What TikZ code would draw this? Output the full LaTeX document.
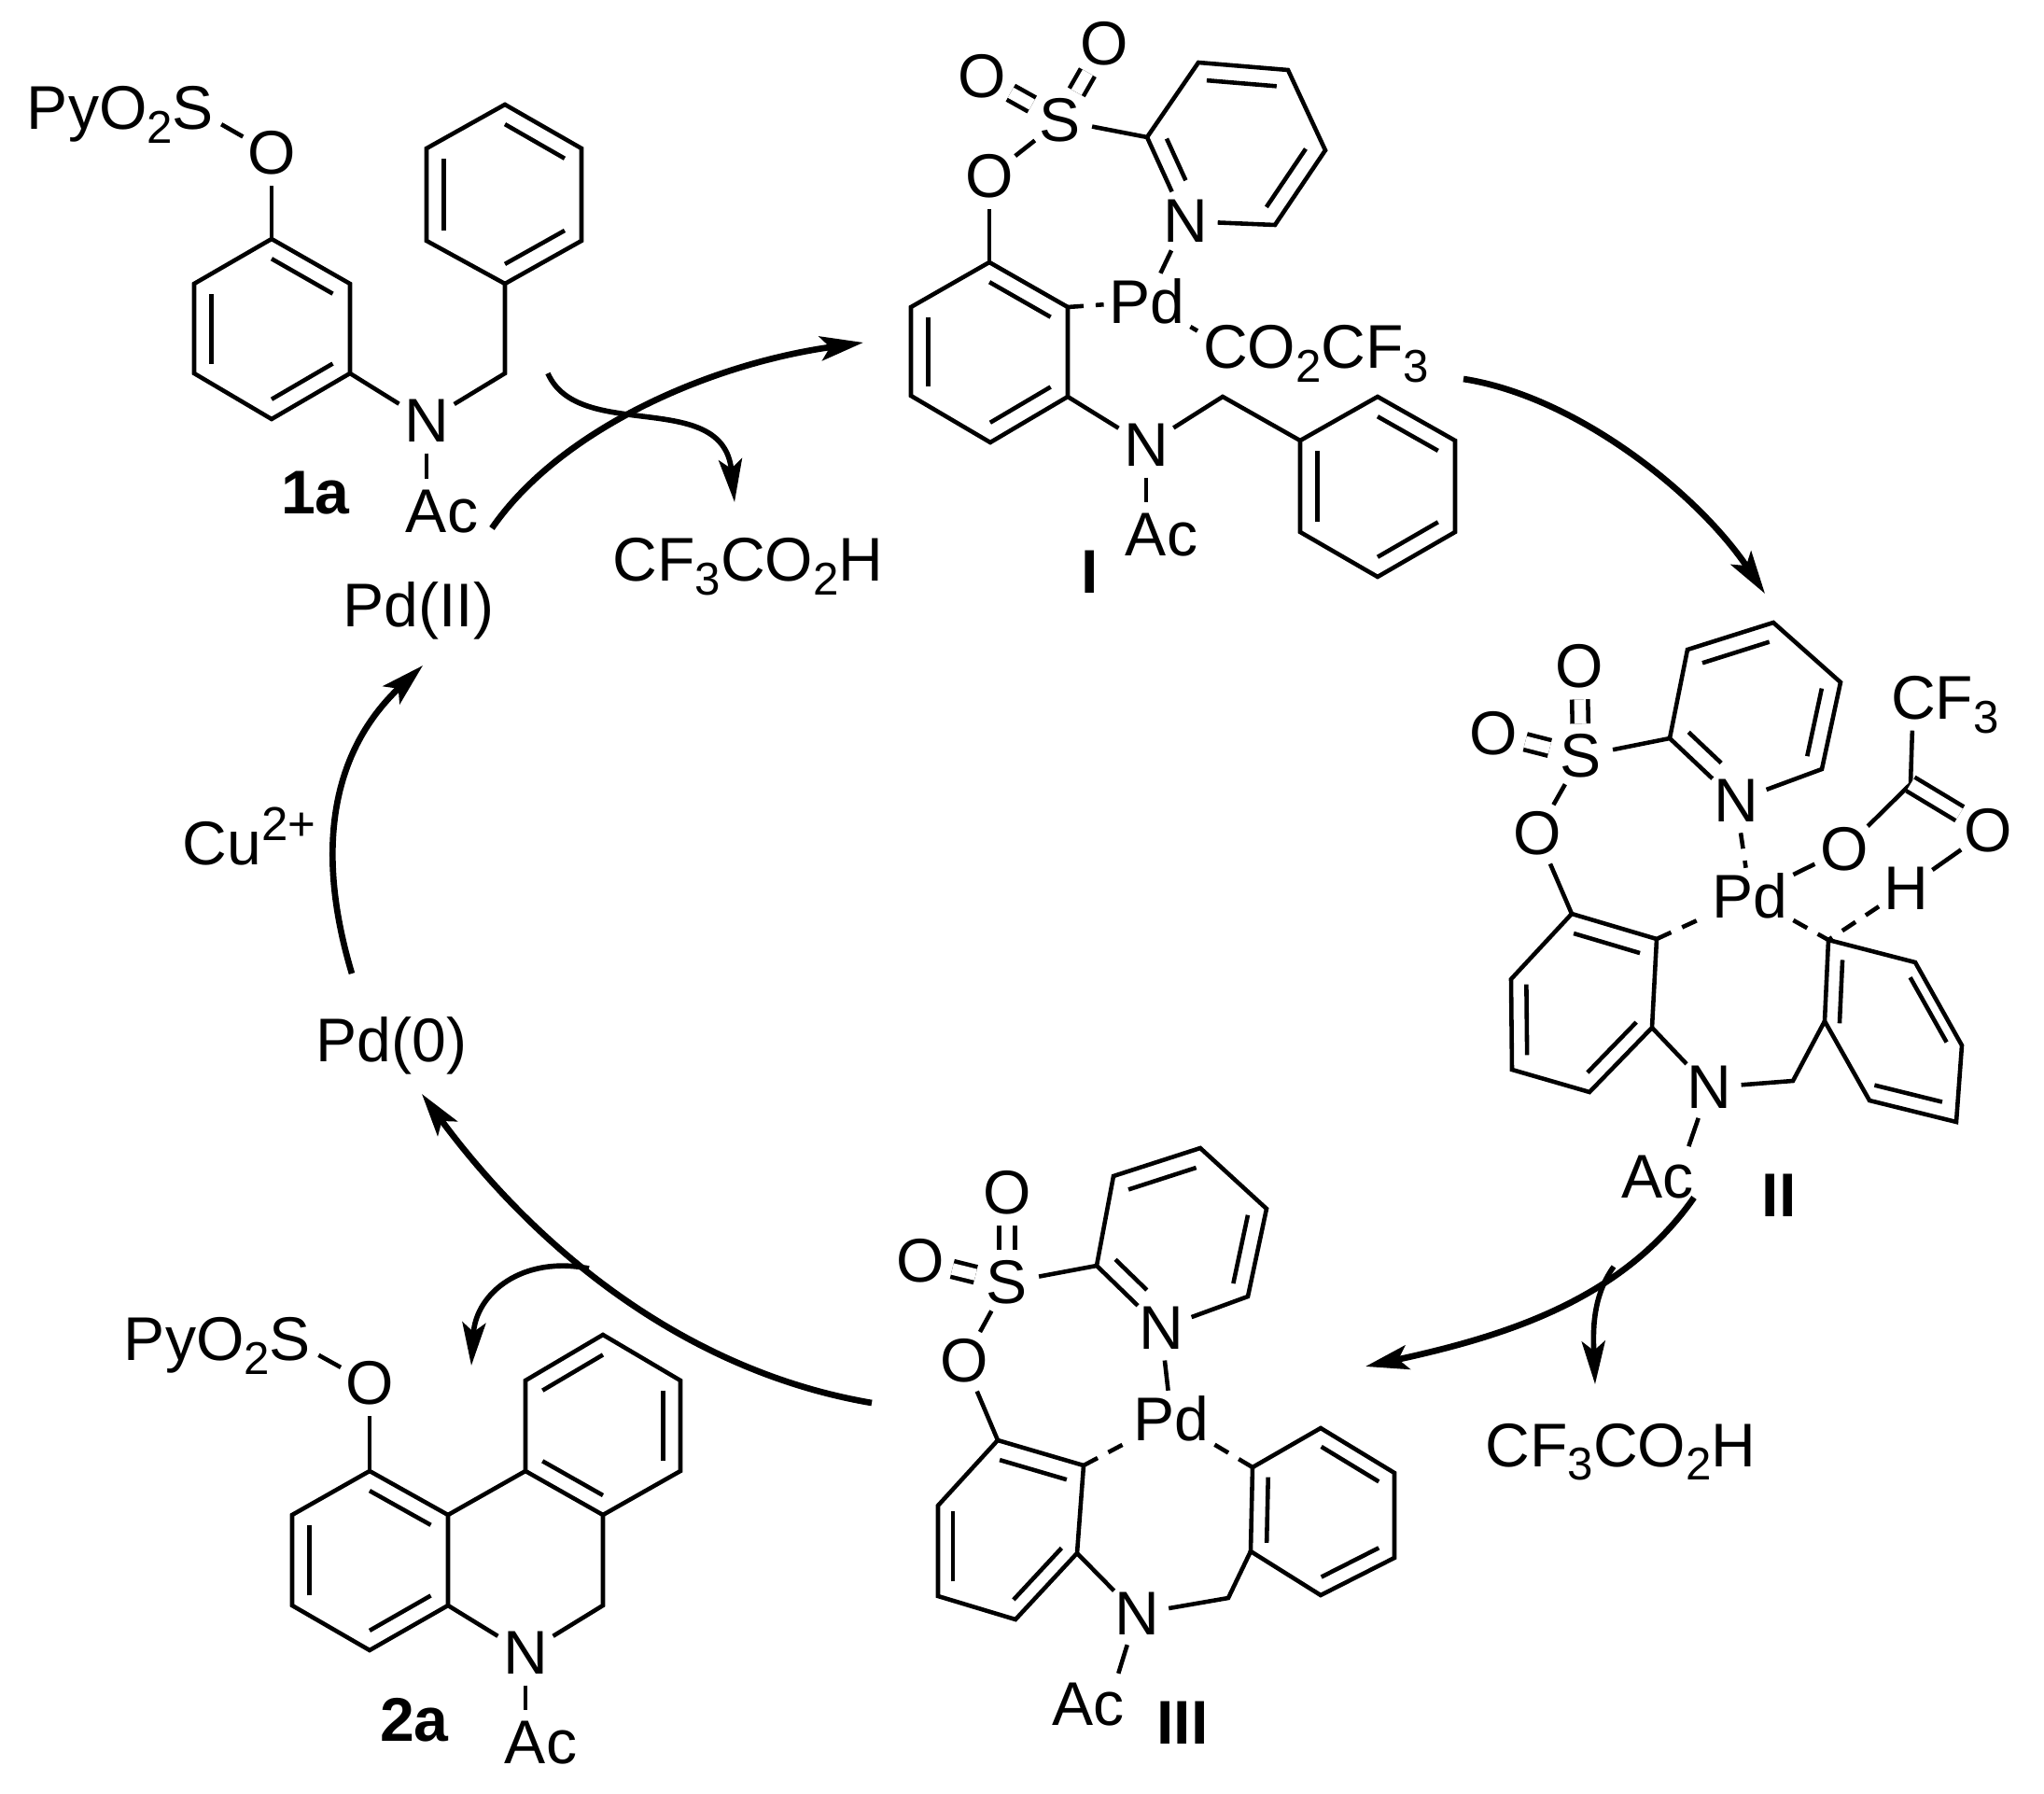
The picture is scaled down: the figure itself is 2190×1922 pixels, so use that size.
\documentclass[tikz,border=0pt]{standalone}
\usepackage{fontspec}
\setmainfont{Liberation Sans}
\usetikzlibrary{arrows.meta,calc}

\newcommand{\chemfont}{\fontsize{18.8}{20}\selectfont}
\newcommand{\lowered}[1]{\raisebox{-4.2pt}[0pt][0pt]{\fontsize{14}{15}\selectfont #1}}
\newcommand{\raised}[1]{\raisebox{7.6pt}[0pt][0pt]{\fontsize{14.5}{15}\selectfont #1}}
\newcommand{\hexcoords}[7]{%
  \coordinate (#1a) at #2; \coordinate (#1b) at #3; \coordinate (#1c) at #4;
  \coordinate (#1d) at #5; \coordinate (#1e) at #6; \coordinate (#1f) at #7;
  \coordinate (#1o) at ($#2!.5!#5$);}
\newcommand{\hexring}[7]{%
  \hexcoords{#1}{#2}{#3}{#4}{#5}{#6}{#7}
  \draw[bond] (#1a) -- (#1b) -- (#1c) -- (#1d) -- (#1e) -- (#1f) -- cycle;}
\newcommand{\ringdbl}[4][]{\draw[bond,#1] ($(#2o)!.78!(#2#3)$) -- ($(#2o)!.78!(#2#4)$);}

\tikzset{
  every node/.style={font=\chemfont},
  bond/.style={line width=1.3pt},
  sobond/.style={bond,double,double distance=0.125cm},
  pdbond/.style={bond,dash pattern=on 0.17cm off 0.13cm},
  atom/.style={circle,inner sep=0pt,minimum size=0.68cm},
  pdatom/.style={rectangle,inner sep=1.5pt},
  lab/.style={anchor=base west,inner sep=0pt},
  cpd/.style={inner sep=0pt,font=\chemfont\bfseries},
  cycarrow/.style={line width=1.9pt,-{Stealth[length=0.46cm,width=0.26cm,inset=0.1cm]}},
  sidearrow/.style={line width=1.6pt,-{Stealth[length=0.46cm,width=0.25cm,inset=0.1cm]}}
}

\begin{document}
\begin{tikzpicture}[x=0.01cm,y=-0.01cm]
  \useasboundingbox (0,0) rectangle (2190,1922);

  \hexring{aA}{(291,256)}{(375,304)}{(375,400)}{(291,449)}{(208,400)}{(208,304)}
  \ringdbl{aA}{a}{b} \ringdbl{aA}{c}{d} \ringdbl{aA}{e}{f}
  \hexring{aB}{(541,112)}{(623,159)}{(623,258)}{(541,304)}{(457,258)}{(457,159)}
  \ringdbl{aB}{a}{b} \ringdbl{aB}{c}{d} \ringdbl{aB}{e}{f}
  \coordinate (aCH) at (541,400);
  \node[atom] (aS) at (207,116) {\llap{\smash{PyO\lowered{2}}}S};
  \node[atom] (aO) at (291,164) {O};
  \node[atom] (aN) at (457,451) {N};
  \node[atom] (aAcyl) at (457,548) {A\rlap{c}};
  \node[cpd] (aLab) at (338,528) {1a};
  \draw[bond] (aS) -- (aO);
  \draw[bond] (aO) -- (aAa);
  \draw[bond] (aAc) -- (aN);
  \draw[bond] (aN) -- (aAcyl);
  \draw[bond] (aN) -- (aCH) -- (aBd);

  \hexring{iA}{(1060,281)}{(1144,329)}{(1144,425)}{(1061,474)}{(976,424)}{(976,329)}
  \ringdbl{iA}{a}{b} \ringdbl{iA}{c}{d} \ringdbl{iA}{e}{f}
  \hexring{iB}{(1476,425)}{(1559,472)}{(1559,570)}{(1476,618)}{(1393,570)}{(1393,472)}
  \ringdbl{iB}{a}{b} \ringdbl{iB}{c}{d} \ringdbl{iB}{e}{f}
  \hexcoords{iP}{(1229,147)}{(1284,67)}{(1380,75)}{(1420,161)}{(1366,241)}{(1270,237)}
  \ringdbl[shorten >=0.28cm]{iP}{a}{f} \ringdbl{iP}{b}{c} \ringdbl{iP}{d}{e}
  \coordinate (iCH) at (1310,425);
  \node[atom] (iS) at (1136,129) {S};
  \node[atom] (iO1) at (1052,82) {O};
  \node[atom] (iO2) at (1183,47) {O};
  \node[atom] (iO3) at (1060,189) {O};
  \node[atom] (iN1) at (iPf) {N};
  \node[atom] (iN2) at (1228,477) {N};
  \node[atom] (iAcyl) at (1228,573) {A\rlap{c}};
  \node[pdatom] (iMet) at (1229,323) {Pd};
  \node[atom] (iTfa) at (1313,372) {C\rlap{O\lowered{2}CF\lowered{3}}};
  \node[cpd] (iLab) at (1168,613) {I};
  \draw[sobond] (iS) -- (iO1);
  \draw[sobond] (iS) -- (iO2);
  \draw[bond] (iS) -- (iO3);
  \draw[bond] (iO3) -- (iAa);
  \draw[bond] (iS) -- (iPa);
  \draw[bond] (iN1) -- (iPa) -- (iPb) -- (iPc) -- (iPd) -- (iPe) -- (iN1);
  \draw[bond] (iN1) -- (iMet);
  \draw[pdbond] (iAb) -- (iMet);
  \draw[bond] (iMet) -- (iTfa);
  \draw[bond] (iAc) -- (iN2);
  \draw[bond] (iN2) -- (iAcyl);
  \draw[bond] (iN2) -- (iCH) -- (iBf);

  \hexring{iiA}{(1684,979)}{(1775,1006)}{(1770,1101)}{(1703,1170)}{(1620,1146)}{(1619,1049)}
  \ringdbl{iiA}{a}{b} \ringdbl{iiA}{c}{d} \ringdbl{iiA}{e}{f}
  \hexring{iiB}{(1959,1007)}{(2052,1031)}{(2102,1120)}{(2096,1202)}{(2003,1179)}{(1955,1094)}
  \ringdbl{iiB}{a}{f} \ringdbl{iiB}{b}{c} \ringdbl{iiB}{d}{e}
  \hexcoords{iiP}{(1789,791)}{(1808,696)}{(1900,667)}{(1972,731)}{(1952,824)}{(1860,858)}
  \ringdbl[shorten >=0.28cm]{iiP}{a}{f} \ringdbl{iiP}{b}{c} \ringdbl{iiP}{d}{e}
  \coordinate (iiCH) at (1921,1158);
  \coordinate (iiCO) at (2047,840);
  \node[atom] (iiS) at (1694,810) {S};
  \node[atom] (iiO1) at (1600,786) {O};
  \node[atom] (iiO2) at (1692,714) {O};
  \node[atom] (iiO3) at (1647,893) {O};
  \node[atom] (iiN1) at (iiPf) {N};
  \node[atom] (iiN2) at (1831,1165) {N};
  \node[atom] (iiAcyl) at (1798,1261) {\llap{A}c};
  \node[pdatom] (iiMet) at (1875,960) {Pd};
  \node[atom] (iiO4) at (1976,910) {O};
  \node[atom] (iiO5) at (2130,890) {O};
  \node[atom] (iiH) at (2042,952) {H};
  \node[atom] (iiCF) at (2050,748) {C\rlap{F\lowered{3}}};
  \node[cpd] (iiLab) at (1906,1281) {II};
  \draw[sobond] (iiS) -- (iiO1);
  \draw[sobond] (iiS) -- (iiO2);
  \draw[bond] (iiS) -- (iiO3);
  \draw[bond] (iiO3) -- (iiAa);
  \draw[bond] (iiS) -- (iiPa);
  \draw[bond] (iiN1) -- (iiPa) -- (iiPb) -- (iiPc) -- (iiPd) -- (iiPe) -- (iiN1);
  \draw[pdbond] (iiN1) -- (iiMet);
  \draw[pdbond] (iiAb) -- (iiMet);
  \draw[bond] (iiMet) -- (iiO4);
  \draw[pdbond] (iiMet) -- (iiBa);
  \draw[pdbond] (iiH) -- (iiBa);
  \draw[bond] (iiO5) -- (iiH);
  \draw[bond] (iiO4) -- (iiCO) -- (iiCF);
  \draw[sobond] (iiCO) -- (iiO5);
  \draw[bond] (iiAc) -- (iiN2);
  \draw[bond] (iiN2) -- (iiAcyl);
  \draw[bond] (iiN2) -- (iiCH) -- (iiBf);

  \hexring{iiiA}{(1069,1543)}{(1161,1570)}{(1154,1664)}{(1088,1735)}{(1005,1710)}{(1005,1613)}
  \ringdbl{iiiA}{a}{b} \ringdbl{iiiA}{c}{d} \ringdbl{iiiA}{e}{f}
  \hexring{iiiB}{(1342,1572)}{(1415,1530)}{(1494,1578)}{(1494,1669)}{(1415,1709)}{(1340,1662)}
  \ringdbl{iiiB}{a}{f} \ringdbl{iiiB}{b}{c} \ringdbl{iiiB}{d}{e}
  \hexcoords{iiiP}{(1175,1356)}{(1193,1260)}{(1286,1230)}{(1357,1295)}{(1337,1389)}{(1244,1423)}
  \ringdbl[shorten >=0.28cm]{iiiP}{a}{f} \ringdbl{iiiP}{b}{c} \ringdbl{iiiP}{d}{e}
  \coordinate (iiiCH) at (1316,1712);
  \node[atom] (iiiS) at (1079,1374) {S};
  \node[atom] (iiiO1) at (986,1351) {O};
  \node[atom] (iiiO2) at (1079,1278) {O};
  \node[atom] (iiiO3) at (1033,1458) {O};
  \node[atom] (iiiN1) at (iiiPf) {N};
  \node[atom] (iiiN2) at (1218,1729) {N};
  \node[atom] (iiiAcyl) at (1188,1826) {\llap{A}c};
  \node[pdatom] (iiiMet) at (1255,1520) {Pd};
  \node[cpd] (iiiLab) at (1267,1846) {III};
  \draw[sobond] (iiiS) -- (iiiO1);
  \draw[sobond] (iiiS) -- (iiiO2);
  \draw[bond] (iiiS) -- (iiiO3);
  \draw[bond] (iiiO3) -- (iiiAa);
  \draw[bond] (iiiS) -- (iiiPa);
  \draw[bond] (iiiN1) -- (iiiPa) -- (iiiPb) -- (iiiPc) -- (iiiPd) -- (iiiPe) -- (iiiN1);
  \draw[bond] (iiiN1) -- (iiiMet);
  \draw[pdbond] (iiiAb) -- (iiiMet);
  \draw[pdbond] (iiiMet) -- (iiiBa);
  \draw[bond] (iiiAc) -- (iiiN2);
  \draw[bond] (iiiN2) -- (iiiAcyl);
  \draw[bond] (iiiN2) -- (iiiCH) -- (iiiBf);

  \hexring{bA}{(396,1576)}{(480,1623)}{(480,1720)}{(396,1768)}{(313,1720)}{(313,1623)}
  \ringdbl{bA}{a}{b} \ringdbl{bA}{c}{d} \ringdbl{bA}{e}{f}
  \hexring{bB}{(563,1576)}{(563,1479)}{(646,1430)}{(729,1479)}{(729,1576)}{(646,1623)}
  \ringdbl{bB}{b}{c} \ringdbl{bB}{d}{e} \ringdbl{bB}{a}{f}
  \coordinate (bCH) at (646,1720);
  \node[atom] (bS) at (311,1435) {\llap{\smash{PyO\lowered{2}}}S};
  \node[atom] (bO) at (396,1482) {O};
  \node[atom] (bN) at (563,1771) {N};
  \node[atom] (bAcyl) at (563,1867) {A\rlap{c}};
  \node[cpd] (bLab) at (444,1843) {2a};
  \draw[bond] (bS) -- (bO);
  \draw[bond] (bO) -- (bAa);
  \draw[bond] (bAb) -- (bBa);
  \draw[bond] (bBf) -- (bCH) -- (bN);
  \draw[bond] (bAc) -- (bN);
  \draw[bond] (bN) -- (bAcyl);

  \node[lab] (pdii) at (367,672) {Pd(II)};
  \node[lab] (pdo) at (338,1137) {Pd(0)};
  \node[lab] (cu) at (195,927) {Cu\raised{2+}};
  \node[lab] (tfaa) at (656,623) {CF\lowered{3}CO\lowered{2}H};
  \node[lab] (tfab) at (1591,1571) {CF\lowered{3}CO\lowered{2}H};

  \coordinate (s1) at (527,566);
  \coordinate (e1) at (925,367);
  \coordinate (s2) at (587,400);
  \coordinate (e2) at (787,538);
  \coordinate (s3) at (1568,406);
  \coordinate (e3) at (1891,636);
  \coordinate (s4) at (1815,1283);
  \coordinate (e4) at (1463,1464);
  \coordinate (s5) at (1729,1357);
  \coordinate (e5) at (1709,1483);
  \coordinate (s6) at (934,1503);
  \coordinate (e6) at (452,1172);
  \coordinate (s7) at (631,1359);
  \coordinate (e7) at (505,1463);
  \coordinate (s8) at (377,1043);
  \coordinate (e8) at (453,713);
  \draw[cycarrow] (s1) .. controls (600,460) and (760,390) .. (e1);
  \draw[sidearrow] (s2) .. controls (620,475) and (775,415) .. (e2);
  \draw[cycarrow] (s3) .. controls (1690,425) and (1820,530) .. (e3);
  \draw[cycarrow] (s4) .. controls (1740,1390) and (1620,1430) .. (e4);
  \draw[sidearrow] (s5) .. controls (1705,1390) and (1707,1430) .. (e5);
  \draw[cycarrow] (s6) .. controls (740,1470) and (580,1345) .. (e6);
  \draw[sidearrow] (s7) .. controls (560,1345) and (510,1385) .. (e7);
  \draw[cycarrow] (s8) .. controls (340,920) and (350,810) .. (e8);
\end{tikzpicture}
\end{document}
